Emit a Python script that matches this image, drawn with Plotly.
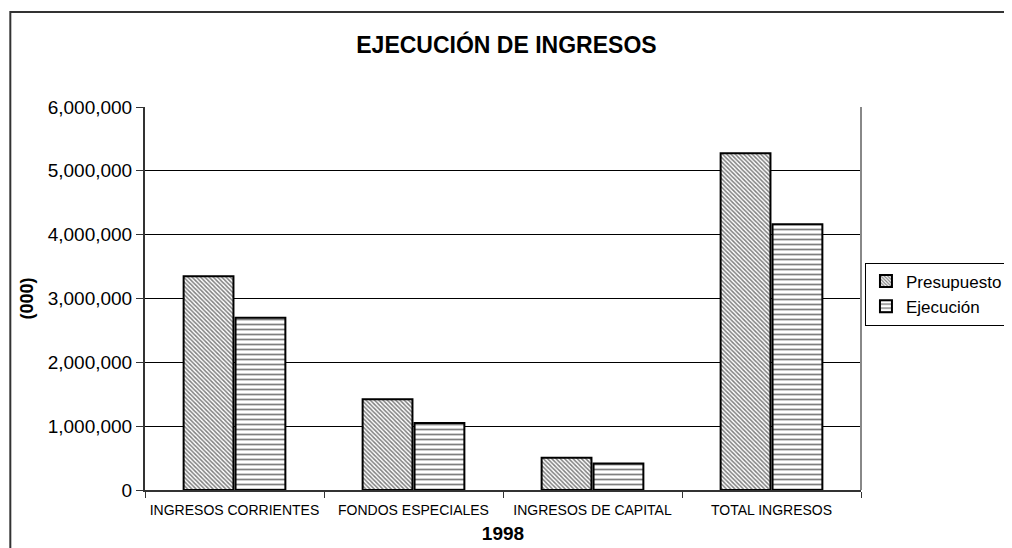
import plotly.graph_objects as go

# Datos del gráfico (miles)
categorias = ["INGRESOS CORRIENTES", "FONDOS ESPECIALES", "INGRESOS DE CAPITAL", "TOTAL INGRESOS"]
presupuesto = [3350000, 1420000, 505000, 5275000]
ejecucion = [2700000, 1050000, 415000, 4165000]
y_ticks = [0, 1000000, 2000000, 3000000, 4000000, 5000000, 6000000]

# márgenes (la página añade 8px de margen al body)
ML, MT, PW, PH = 137, 99, 723, 383

fig = go.Figure()

fig.add_trace(go.Bar(
    x=categorias, y=presupuesto, name="Presupuesto",
    marker=dict(color="white", line=dict(color="black", width=2),
                pattern=dict(shape="\\", size=3, solidity=0.5, fgcolor="black", bgcolor="white"))
))
fig.add_trace(go.Bar(
    x=categorias, y=ejecucion, name="Ejecución",
    marker=dict(color="white", line=dict(color="black", width=2),
                pattern=dict(shape="-", size=5, solidity=0.35, fgcolor="black", bgcolor="white"))
))

# Marco exterior del gráfico
fig.add_shape(type="rect", xref="paper", yref="paper",
              x0=(1 - ML) / PW, x1=1.5, y0=-0.5, y1=(MT + PH - 4) / PH,
              line=dict(color="#333333", width=2), layer="below")
# Borde derecho del área de trazado
fig.add_shape(type="line", xref="paper", yref="paper", x0=1, x1=1, y0=0, y1=1,
              line=dict(color="#888888", width=2))

fig.update_layout(
    width=1012, height=548,
    margin=dict(l=ML, r=1012 - ML - PW, t=MT, b=548 - MT - PH),
    paper_bgcolor="white", plot_bgcolor="white",
    font=dict(family="Liberation Sans, Arial", color="black"),
    title=dict(text="<b>EJECUCIÓN DE INGRESOS</b>", x=(510 - 8 - ML) / PW, xref="paper",
               xanchor="center", y=(548 - 37) / 548, yanchor="middle", font=dict(size=23)),
    barmode="group", bargap=0.42, bargroupgap=0.04,
    legend=dict(x=(864 - ML) / PW, y=(MT + PH - 286) / PH, xanchor="left", yanchor="middle",
                bordercolor="black", borderwidth=1, font=dict(size=17),
                itemwidth=30, tracegroupgap=0),
    showlegend=True,
)

fig.update_yaxes(range=[0, 6000000], tickvals=y_ticks, tickformat=",d",
                 showgrid=True, gridcolor="black", gridwidth=1,
                 showline=True, linecolor="#333333", linewidth=2,
                 ticks="outside", ticklen=7, tickcolor="#333333",
                 tickfont=dict(size=19), zeroline=False, automargin=False,
                 title=dict(text="<b>(000)</b>", font=dict(size=18), standoff=9))
fig.update_xaxes(showline=True, linecolor="#333333", linewidth=2,
                 ticks="outside", tickson="boundaries", ticklen=6, tickcolor="#333333",
                 tickfont=dict(size=14), tickangle=0, automargin=False, ticklabelstandoff=6,
                 title=dict(text="<b>1998</b>", font=dict(size=19), standoff=10))

fig.write_html("out.html")
